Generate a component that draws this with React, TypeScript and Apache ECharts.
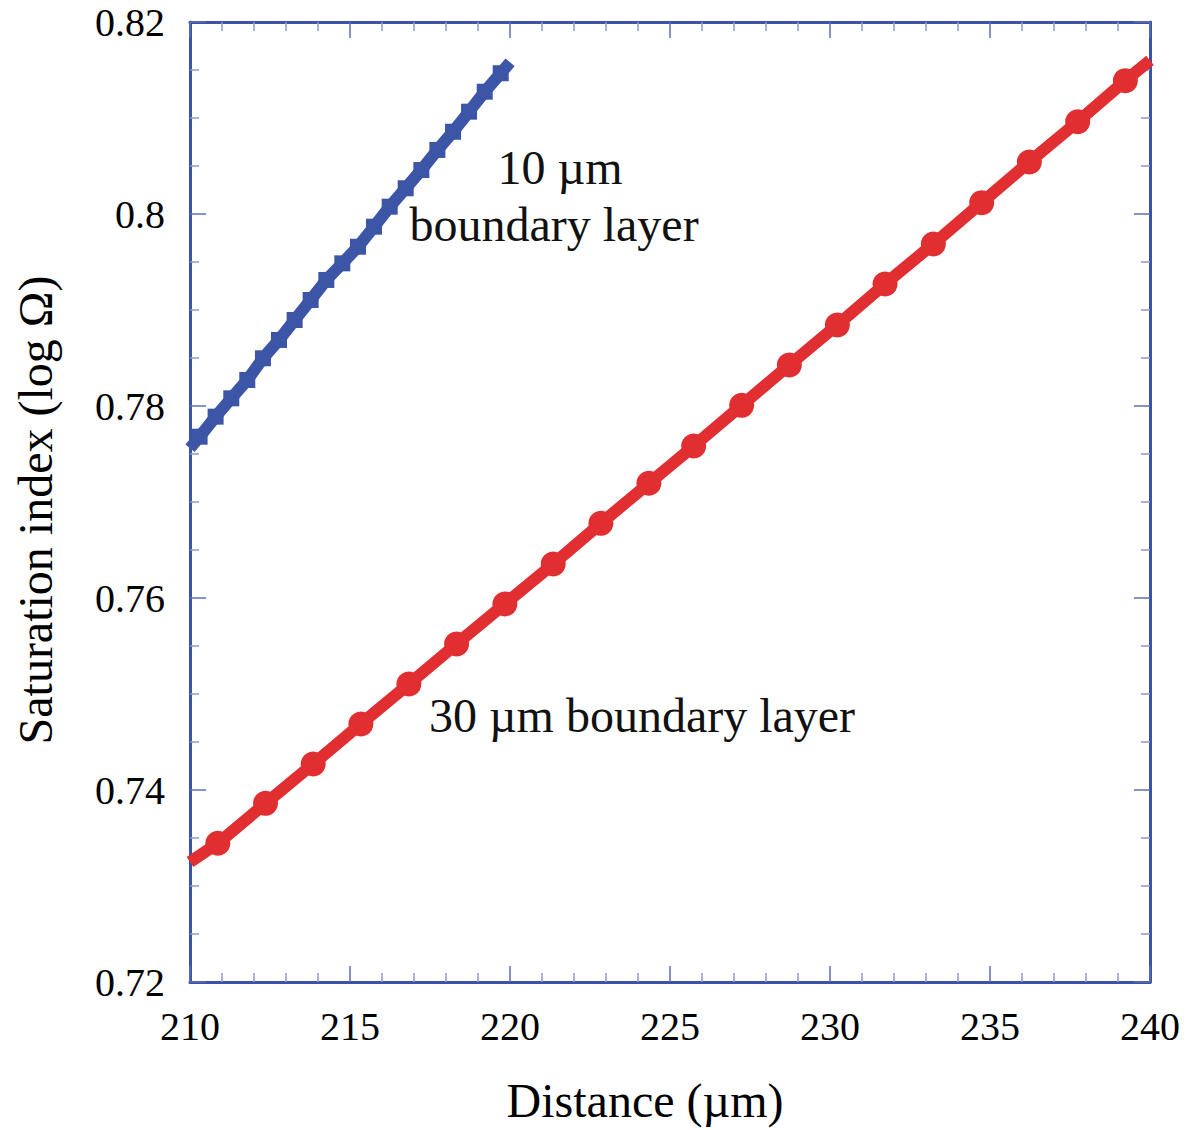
import React, { useEffect, useRef } from "react";
import * as echarts from "echarts";

// 10 µm boundary layer (blue) — marker positions
const blueX = [210.3, 210.8, 211.29, 211.79, 212.28, 212.78, 213.27, 213.77, 214.26, 214.76, 215.25, 215.75, 216.24, 216.74, 217.23, 217.73, 218.22, 218.72, 219.21, 219.71];
const blueY = [0.7768, 0.77889, 0.7808, 0.78271, 0.78497, 0.78688, 0.78896, 0.79104, 0.79313, 0.79486, 0.79659, 0.79868, 0.80076, 0.80268, 0.80458, 0.80667, 0.80857, 0.81066, 0.81274, 0.81466];
const blueEnds = [[210, 0.7756], [220, 0.8158]];

// 30 µm boundary layer (red) — marker positions
const redX = [210.87, 212.36, 213.85, 215.34, 216.84, 218.33, 219.84, 221.35, 222.84, 224.34, 225.74, 227.24, 228.73, 230.23, 231.72, 233.23, 234.74, 236.23, 237.74, 239.23];
const redY = [0.73445, 0.73861, 0.74271, 0.74688, 0.75104, 0.75521, 0.75938, 0.76354, 0.76778, 0.77195, 0.77583, 0.78007, 0.78427, 0.78844, 0.79271, 0.79688, 0.80118, 0.80542, 0.80961, 0.81389];
const redEnds = [[210, 0.7325], [240, 0.816]];

const xTicks = { min: 210, max: 240, interval: 5 };
const yTicks = { min: 0.72, max: 0.82, interval: 0.02 };

const xTitle = "Distance (\u00b5m)";
const yTitle = "Saturation index (log \u03a9)";
const blueLabel = ["10 \u00b5m", "boundary layer"];
const redLabel = "30 \u00b5m boundary layer";

const FONT = '"Liberation Serif", "Times New Roman", serif';
const AXIS_COLOR = "#3b52a5";
const TICK_COLOR = "#5c6fb6";
const MINOR_COLOR = "#8d9acd";
const BLUE = "#3c55a7";
const RED = "#e02e31";

function buildSeriesData(xs: number[], ys: number[], ends: number[][]) {
  const data: any[] = [{ value: ends[0], symbol: "none" }];
  xs.forEach((x, i) => data.push({ value: [x, ys[i]] }));
  data.push({ value: ends[1], symbol: "none" });
  return data;
}

export default function App() {
  const ref = useRef<HTMLDivElement>(null);
  useEffect(() => {
    if (!ref.current) return;
    const chart = echarts.init(ref.current, undefined, { renderer: "svg" });
    const axisCommon = {
      type: "value" as const,
      axisLine: { show: true, onZero: false, lineStyle: { color: AXIS_COLOR, width: 3 } },
      axisTick: { show: true, inside: true, length: 16, lineStyle: { color: TICK_COLOR, width: 1.5 } },
      minorTick: { show: true, length: 9, lineStyle: { color: MINOR_COLOR, width: 1.5 } },
      splitLine: { show: false },
    };
    chart.setOption({
      animation: false,
      backgroundColor: "#ffffff",
      grid: { left: 190, top: 22, right: 37, bottom: 148, containLabel: false },
      xAxis: [
        {
          ...axisCommon,
          position: "bottom",
          min: xTicks.min,
          max: xTicks.max,
          interval: xTicks.interval,
          minorTick: { ...axisCommon.minorTick, splitNumber: 5 },
          axisLabel: { color: "#000", fontFamily: FONT, fontSize: 40, margin: 24 },
        },
        {
          ...axisCommon,
          position: "top",
          min: xTicks.min,
          max: xTicks.max,
          interval: xTicks.interval,
          minorTick: { ...axisCommon.minorTick, splitNumber: 5 },
          axisLabel: { show: false },
        },
      ],
      yAxis: [
        {
          ...axisCommon,
          position: "left",
          min: yTicks.min,
          max: yTicks.max,
          interval: yTicks.interval,
          minorTick: { ...axisCommon.minorTick, splitNumber: 4 },
          axisLabel: { color: "#000", fontFamily: FONT, fontSize: 40, margin: 25 },
        },
        {
          ...axisCommon,
          position: "right",
          min: yTicks.min,
          max: yTicks.max,
          interval: yTicks.interval,
          minorTick: { ...axisCommon.minorTick, splitNumber: 4 },
          axisLabel: { show: false },
        },
      ],
      series: [
        {
          type: "line",
          xAxisIndex: 0,
          yAxisIndex: 0,
          data: buildSeriesData(redX, redY, redEnds),
          lineStyle: { color: RED, width: 12 },
          itemStyle: { color: RED },
          symbol: "circle",
          symbolSize: 25,
          showSymbol: true,
          showAllSymbol: true,
          clip: true,
          z: 3,
        },
        {
          type: "line",
          xAxisIndex: 0,
          yAxisIndex: 0,
          data: buildSeriesData(blueX, blueY, blueEnds),
          lineStyle: { color: BLUE, width: 12 },
          itemStyle: { color: BLUE },
          symbol: "rect",
          symbolSize: 16,
          showSymbol: true,
          showAllSymbol: true,
          clip: true,
          z: 3,
        },
      ],
      graphic: [
        {
          type: "text",
          x: 645,
          y: 1100,
          style: { text: xTitle, font: `48px ${FONT}`, fill: "#000", textAlign: "center", textVerticalAlign: "middle" },
        },
        {
          type: "text",
          x: 35,
          y: 510,
          rotation: Math.PI / 2,
          style: { text: yTitle, font: `48px ${FONT}`, fill: "#000", textAlign: "center", textVerticalAlign: "middle" },
        },
        {
          type: "text",
          x: 560,
          y: 167,
          style: { text: blueLabel[0], font: `48px ${FONT}`, fill: "#111", textAlign: "center", textVerticalAlign: "middle" },
        },
        {
          type: "text",
          x: 554,
          y: 224,
          style: { text: blueLabel[1], font: `48px ${FONT}`, fill: "#111", textAlign: "center", textVerticalAlign: "middle" },
        },
        {
          type: "text",
          x: 642,
          y: 715,
          style: { text: redLabel, font: `48px ${FONT}`, fill: "#111", textAlign: "center", textVerticalAlign: "middle" },
        },
      ],
    });
    return () => chart.dispose();
  }, []);
  return (
    <div
      ref={ref}
      style={{ position: "fixed", left: 0, top: 0, width: 1187, height: 1130, background: "#fff" }}
    />
  );
}
